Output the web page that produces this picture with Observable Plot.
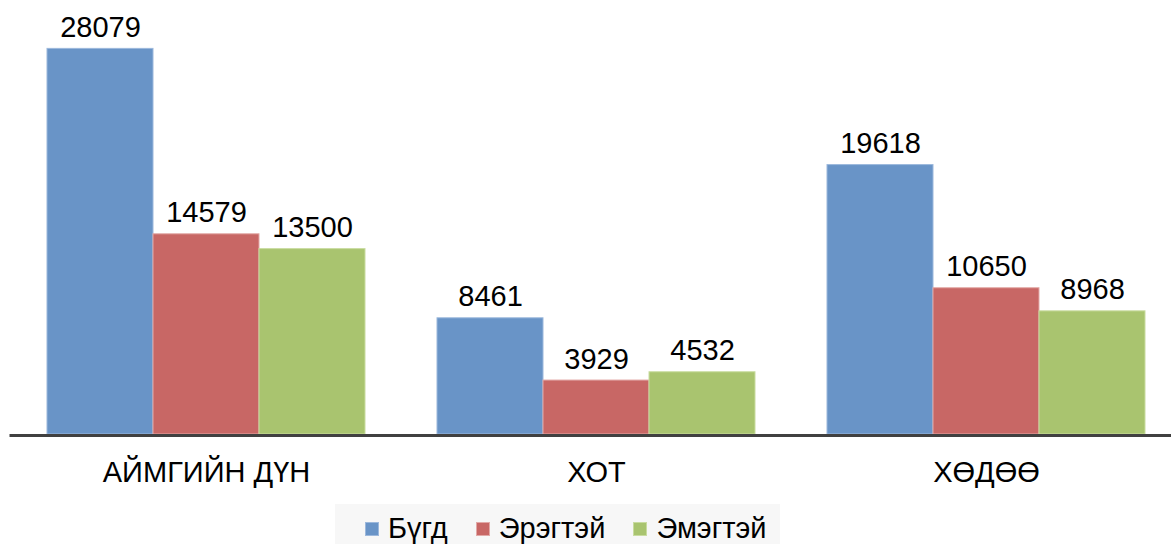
<!DOCTYPE html>
<html>
<head>
<meta charset="utf-8">
<script src="https://cdn.jsdelivr.net/npm/d3@7"></script>
<script src="https://cdn.jsdelivr.net/npm/@observablehq/plot@0.6"></script>
<style>
  html, body { margin: 0; padding: 0; background: #fff; overflow: hidden; }
  #wrap { position: relative; width: 1171px; height: 544px; font-family: "Liberation Sans", Arial, sans-serif; }
  #wrap svg, #wrap svg text, #wrap svg g { font-family: "Liberation Sans", Arial, sans-serif !important; font-variant: normal !important; }
  #legend { position: absolute; left: 335px; top: 504px; width: 445px; height: 40px; background: #f7f7f7;
            box-sizing: border-box; padding-top: 9px;
            display: flex; align-items: center; font-size: 29px; color: #000; font-family: "Liberation Sans", Arial, sans-serif; }
  .item { display: flex; align-items: center; }
  .sw { width: 14px; height: 14px; margin-right: 9px; box-sizing: border-box; }
</style>
</head>
<body>
<div id="wrap"></div>
<script>
const categories = ["АЙМГИЙН ДҮН", "ХОТ", "ХӨДӨӨ"];
const series = ["Бүгд", "Эрэгтэй", "Эмэгтэй"];
const total  = [28079, 8461, 19618];
const male   = [14579, 3929, 10650];
const female = [13500, 4532, 8968];
const colors  = ["#6994c7", "#c86765", "#a9c46f"];
const strokes = ["#9cb8dc", "#e2a9a7", "#c9dca0"];

const valuesBySeries = [total, male, female];
const rows = [];
categories.forEach((c, i) => {
  series.forEach((s, j) => rows.push({category: c, series: s, value: valuesBySeries[j][i]}));
});

const chart = Plot.plot({
  width: 1171,
  height: 500,
  marginTop: 22,
  marginBottom: 66,
  marginLeft: 10,
  marginRight: -10,
  style: "font-family: 'Liberation Sans', Arial, sans-serif; font-size: 29px; color: #000; background: transparent;",
  fx: {domain: categories, paddingInner: 0.18, paddingOuter: 0.09, axis: "bottom", tickSize: 0, tickPadding: 27, label: null},
  x: {domain: series, padding: 0, axis: null},
  y: {domain: [0, 30000], axis: null},
  color: {domain: series, range: colors},
  marks: [
    Plot.barY(rows, {fx: "category", x: "series", y: "value", fill: "series",
      stroke: d => strokes[series.indexOf(d.series)], strokeWidth: 1}),
    Plot.text(rows, {fx: "category", x: "series", y: "value", text: d => String(d.value),
      lineAnchor: "bottom", dy: -12, fill: "#000", fontSize: 29, fontFamily: "Liberation Sans, Arial, sans-serif"}),
    Plot.ruleY([0], {stroke: "#404040", strokeWidth: 3, dy: 1, insetLeft: -36.5, insetRight: -36.5})
  ]
});
document.getElementById("wrap").appendChild(chart);

const legend = document.createElement("div");
legend.id = "legend";
series.forEach((s, j) => {
  const item = document.createElement("div");
  item.className = "item";
  item.style.marginLeft = j === 0 ? "30px" : "28px";
  const sw = document.createElement("div");
  sw.className = "sw";
  sw.style.background = colors[j];
  sw.style.border = "1px solid " + strokes[j];
  const t = document.createElement("span");
  t.textContent = s;
  item.appendChild(sw);
  item.appendChild(t);
  legend.appendChild(item);
});
document.getElementById("wrap").appendChild(legend);
</script>
</body>
</html>
